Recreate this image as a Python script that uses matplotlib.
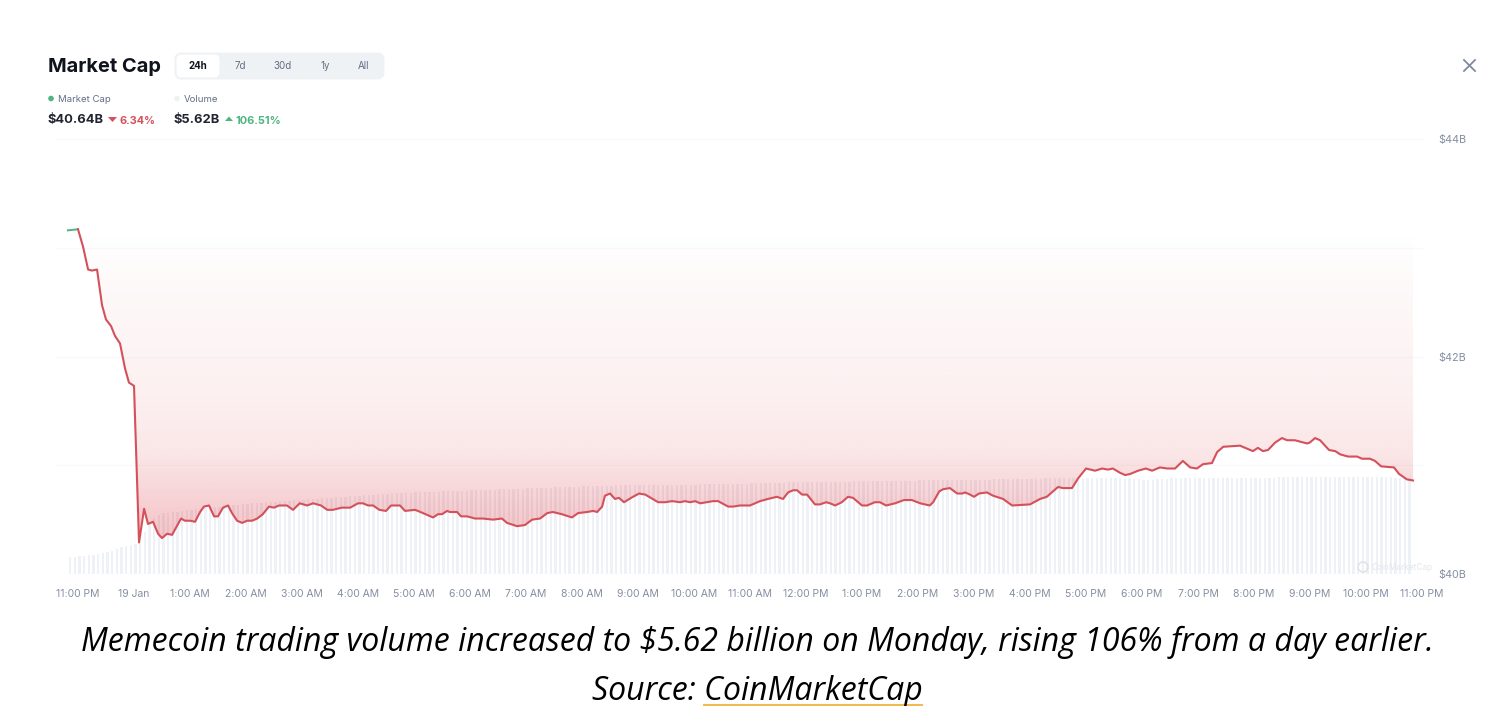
import numpy as np
import matplotlib
matplotlib.use("Agg")
import matplotlib.pyplot as plt
from matplotlib.patches import FancyBboxPatch, Circle, Polygon

# Market cap in $B, x is hours after 11:00 PM.
hours_up = [-0.18, 0.00]
cap_up = [43.16, 43.17]

hours = [0.00, 0.09, 0.18, 0.25, 0.34, 0.43, 0.50, 0.59, 0.66, 0.75, 0.84, 0.91, 1.00, 1.09, 1.18, 1.25,
         1.34, 1.43, 1.50, 1.59, 1.68, 1.84, 1.91, 2.00, 2.09, 2.18, 2.25, 2.34, 2.43, 2.50, 2.59, 2.68,
         2.75, 2.84, 2.93, 3.02, 3.11, 3.20, 3.30, 3.41, 3.50, 3.59, 3.73, 3.84, 3.96, 4.09, 4.20, 4.34,
         4.45, 4.55, 4.71, 4.86, 5.00, 5.09, 5.18, 5.27, 5.38, 5.50, 5.59, 5.75, 5.84, 6.02, 6.16, 6.34,
         6.43, 6.50, 6.59, 6.64, 6.77, 6.84, 6.95, 7.09, 7.23, 7.41, 7.57, 7.66, 7.84, 7.98, 8.11, 8.25,
         8.38, 8.48, 8.64, 8.82, 8.93, 9.09, 9.20, 9.27, 9.36, 9.41, 9.50, 9.59, 9.66, 9.75, 9.91, 10.02,
         10.13, 10.36, 10.48, 10.61, 10.75, 10.84, 10.93, 11.02, 11.11, 11.34, 11.43, 11.61, 11.70, 11.82,
         12.00, 12.18, 12.32, 12.48, 12.59, 12.68, 12.77, 12.84, 12.93, 13.02, 13.16, 13.25, 13.36, 13.43,
         13.52, 13.64, 13.75, 13.84, 14.00, 14.09, 14.23, 14.32, 14.43, 14.59, 14.75, 14.89, 15.04, 15.21,
         15.27, 15.38, 15.45, 15.57, 15.70, 15.79, 15.84, 15.93, 16.00, 16.09, 16.23, 16.34, 16.52, 16.68,
         17.00, 17.18, 17.30, 17.50, 17.59, 17.75, 17.86, 18.00, 18.16, 18.29, 18.39, 18.48, 18.61, 18.70,
         18.79, 18.93, 19.07, 19.18, 19.32, 19.45, 19.59, 19.73, 19.86, 19.98, 20.09, 20.25, 20.34, 20.45,
         20.75, 20.98, 21.07, 21.16, 21.25, 21.38, 21.50, 21.59, 21.73, 21.95, 22.00, 22.09, 22.18, 22.34,
         22.45, 22.54, 22.68, 22.84, 22.93, 23.07, 23.16, 23.27, 23.50, 23.59, 23.73, 23.84]
cap = [43.17, 43.01, 42.80, 42.79, 42.80, 42.47, 42.34, 42.28, 42.19, 42.12, 41.89, 41.76, 41.73, 40.29, 40.60, 40.46,
       40.48, 40.37, 40.33, 40.37, 40.36, 40.51, 40.49, 40.49, 40.48, 40.57, 40.62, 40.63, 40.53, 40.53, 40.61, 40.63,
       40.56, 40.49, 40.47, 40.49, 40.49, 40.51, 40.55, 40.62, 40.61, 40.63, 40.63, 40.59, 40.65, 40.63, 40.65, 40.63,
       40.59, 40.59, 40.61, 40.61, 40.65, 40.65, 40.63, 40.63, 40.59, 40.58, 40.63, 40.63, 40.58, 40.59, 40.56, 40.52,
       40.55, 40.55, 40.58, 40.57, 40.57, 40.53, 40.53, 40.51, 40.51, 40.50, 40.51, 40.47, 40.44, 40.45, 40.50, 40.51,
       40.56, 40.57, 40.55, 40.52, 40.56, 40.57, 40.58, 40.57, 40.62, 40.72, 40.74, 40.69, 40.70, 40.66, 40.71, 40.74,
       40.73, 40.66, 40.66, 40.67, 40.66, 40.67, 40.66, 40.67, 40.65, 40.67, 40.67, 40.62, 40.62, 40.63, 40.63, 40.67,
       40.69, 40.71, 40.69, 40.75, 40.77, 40.77, 40.73, 40.73, 40.64, 40.64, 40.66, 40.65, 40.63, 40.66, 40.71, 40.70,
       40.63, 40.63, 40.66, 40.66, 40.63, 40.65, 40.68, 40.68, 40.65, 40.63, 40.66, 40.76, 40.78, 40.79, 40.74, 40.74,
       40.75, 40.73, 40.71, 40.74, 40.75, 40.72, 40.69, 40.63, 40.64, 40.69, 40.71, 40.80, 40.79, 40.79, 40.88, 40.97,
       40.95, 40.97, 40.96, 40.97, 40.93, 40.91, 40.92, 40.95, 40.97, 40.95, 40.98, 40.97, 40.97, 41.04, 40.98, 40.97,
       41.01, 41.02, 41.12, 41.17, 41.18, 41.13, 41.16, 41.13, 41.14, 41.21, 41.25, 41.23, 41.23, 41.20, 41.21, 41.25,
       41.23, 41.14, 41.13, 41.10, 41.08, 41.08, 41.06, 41.06, 41.04, 40.99, 40.98, 40.92, 40.87, 40.86]

# Volume in $B, one bar per 5 minutes, starting just before 11:00 PM.
volume = [0.99, 0.99, 1.05, 1.05, 1.11, 1.11, 1.17, 1.23, 1.29, 1.35, 1.46, 1.58, 1.64, 1.70, 1.76, 1.87,
          2.46, 2.93, 3.28, 3.45, 3.57, 3.57, 3.63, 3.63, 3.69, 3.74, 3.74, 3.80, 3.80, 3.86, 3.86, 3.92,
          3.92, 3.98, 3.98, 4.04, 4.04, 4.10, 4.10, 4.15, 4.15, 4.15, 4.21, 4.21, 4.21, 4.27, 4.27, 4.27,
          4.33, 4.33, 4.33, 4.39, 4.39, 4.39, 4.45, 4.45, 4.45, 4.50, 4.50, 4.50, 4.56, 4.56, 4.56, 4.62,
          4.62, 4.62, 4.68, 4.68, 4.68, 4.74, 4.74, 4.74, 4.74, 4.74, 4.80, 4.80, 4.80, 4.80, 4.80, 4.80,
          4.86, 4.86, 4.86, 4.86, 4.86, 4.86, 4.91, 4.91, 4.91, 4.91, 4.91, 4.91, 4.97, 4.97, 4.97, 4.97,
          4.97, 4.97, 5.03, 5.03, 5.03, 5.03, 5.03, 5.03, 5.09, 5.09, 5.09, 5.09, 5.09, 5.09, 5.15, 5.15,
          5.15, 5.15, 5.15, 5.15, 5.15, 5.21, 5.21, 5.21, 5.21, 5.21, 5.21, 5.21, 5.21, 5.21, 5.21, 5.21,
          5.21, 5.21, 5.21, 5.21, 5.21, 5.21, 5.21, 5.27, 5.27, 5.27, 5.27, 5.27, 5.27, 5.27, 5.27, 5.27,
          5.27, 5.27, 5.32, 5.32, 5.32, 5.32, 5.32, 5.32, 5.32, 5.32, 5.38, 5.38, 5.38, 5.38, 5.38, 5.38,
          5.38, 5.38, 5.38, 5.38, 5.38, 5.38, 5.38, 5.38, 5.44, 5.44, 5.44, 5.44, 5.44, 5.44, 5.44, 5.44,
          5.44, 5.44, 5.44, 5.44, 5.44, 5.44, 5.50, 5.50, 5.50, 5.50, 5.50, 5.50, 5.50, 5.50, 5.50, 5.50,
          5.50, 5.50, 5.50, 5.50, 5.50, 5.50, 5.56, 5.56, 5.56, 5.56, 5.56, 5.56, 5.56, 5.56, 5.56, 5.56,
          5.56, 5.62, 5.62, 5.62, 5.62, 5.62, 5.62, 5.62, 5.62, 5.62, 5.62, 5.62, 5.62, 5.62, 5.62, 5.62,
          5.62, 5.62, 5.62, 5.62, 5.56, 5.56, 5.50, 5.50, 5.50, 5.56, 5.56, 5.56, 5.62, 5.62, 5.62, 5.62,
          5.62, 5.62, 5.62, 5.62, 5.62, 5.62, 5.62, 5.62, 5.62, 5.62, 5.62, 5.62, 5.62, 5.62, 5.62, 5.62,
          5.62, 5.62, 5.62, 5.67, 5.67, 5.67, 5.67, 5.67, 5.67, 5.67, 5.67, 5.67, 5.67, 5.67, 5.67, 5.67,
          5.67, 5.67, 5.67, 5.67, 5.67, 5.67, 5.67, 5.67, 5.67, 5.67, 5.67, 5.67, 5.62, 5.62, 5.62, 5.62]

time_ticks = list(range(25))
time_labels = ["11:00 PM", "19 Jan", "1:00 AM", "2:00 AM", "3:00 AM", "4:00 AM", "5:00 AM", "6:00 AM",
               "7:00 AM", "8:00 AM", "9:00 AM", "10:00 AM", "11:00 AM", "12:00 PM", "1:00 PM", "2:00 PM",
               "3:00 PM", "4:00 PM", "5:00 PM", "6:00 PM", "7:00 PM", "8:00 PM", "9:00 PM", "10:00 PM", "11:00 PM"]
cap_ticks = [40, 41, 42, 43, 44]
cap_labels = ["$40B", "", "$42B", "", "$44B"]

# Fill strength by market cap level.
fill_levels = [40.2, 40.6, 41.1, 41.6, 42.5, 43.17]
fill_alpha = [0.32, 0.25, 0.13, 0.08, 0.04, 0.0]

RED = "#d4505a"
GREEN = "#4fb57f"
GREY = "#858fa2"
DARK = "#10131c"
W, H = 1494, 706

plt.rcParams["font.family"] = ["Inter", "DejaVu Sans"]
fig = plt.figure(figsize=(W / 100, H / 100), dpi=100)

# Chart axes: 11:00 PM sits at px 78, one hour is 56 px, $44B at y 139, $40B at y 574.
left, right = 56, 1424
rect = [left / W, 1 - 574 / H, (right - left) / W, (574 - 139) / H]
xlim = ((left - 78) / 56, (right - 78) / 56)

ax_vol = fig.add_axes(rect)
ax_vol.set_xlim(xlim)
ax_vol.set_ylim(0, 25.5)
ax_vol.axis("off")
bar_x = -0.14 + np.arange(len(volume)) / 12
ax_vol.bar(bar_x, volume, width=0.04, color="#eef1f6", linewidth=0)

ax = fig.add_axes(rect)
ax.patch.set_visible(False)
ax.set_xlim(xlim)
ax.set_ylim(40, 44)
for s in ax.spines.values():
    s.set_visible(False)
ax.set_xticks(time_ticks)
ax.set_xticklabels(time_labels, fontsize=7.5, color=GREY)
ax.set_yticks(cap_ticks)
ax.set_yticklabels(cap_labels, fontsize=7.8, color=GREY)
ax.yaxis.tick_right()
ax.tick_params(axis="both", length=0)
ax.tick_params(axis="x", pad=10.5)
ax.tick_params(axis="y", pad=10)
ax.grid(axis="y", color="#f8f9fa", linewidth=0.8, zorder=0)

# Gradient between the opening level and the line.
hours = np.array(hours)
cap = np.array(cap)
area = ax.fill_between(hours, cap, cap[0], color="none", linewidth=0)
levels = np.linspace(40, cap[0], 300)
grad = np.zeros((300, 1, 4))
grad[:, 0, :3] = matplotlib.colors.to_rgb("#dc3c46")
grad[:, 0, 3] = np.interp(levels, fill_levels, fill_alpha)
im = ax.imshow(grad, origin="lower", aspect="auto", interpolation="bilinear",
               extent=(hours[0], hours[-1], 40, cap[0]), zorder=2)
im.set_clip_path(area.get_paths()[0], transform=ax.transData)
ax.set_xlim(xlim)
ax.set_ylim(40, 44)

ax.plot(hours_up, cap_up, color=GREEN, linewidth=1.4, zorder=3)
ax.plot(hours, cap, color=RED, linewidth=1.5, zorder=3, solid_joinstyle="round")

# Header, legend and caption, placed in image pixels.
ov = fig.add_axes([0, 0, 1, 1])
ov.set_xlim(0, W)
ov.set_ylim(H, 0)
ov.axis("off")

ov.text(48, 66.5, "Market Cap", fontsize=14.4, fontweight="bold", color=DARK, va="center")
ov.add_patch(FancyBboxPatch((178, 56), 203, 20, boxstyle="round,pad=0,rounding_size=3", mutation_aspect=1,
                            facecolor="#eff2f5", edgecolor="#eff2f5", linewidth=5))
ov.add_patch(FancyBboxPatch((178, 56), 40, 20, boxstyle="round,pad=0,rounding_size=3",
                            facecolor="white", edgecolor="white", linewidth=2))
ranges = ["24h", "7d", "30d", "1y", "All"]
range_x = [198, 240, 283, 325, 363]
for label, x in zip(ranges, range_x):
    ov.text(x, 66, label, fontsize=7, ha="center", va="center",
            color=DARK if label == "24h" else "#616e85", fontweight="bold" if label == "24h" else "normal")

ov.add_patch(Circle((51, 98.5), 2.8, color="#4fb57f", linewidth=0))
ov.text(58, 99, "Market Cap", fontsize=6.9, color="#616e85", va="center")
ov.add_patch(Circle((177, 98.5), 2.8, color="#eff2f5", linewidth=0))
ov.text(184, 99, "Volume", fontsize=6.9, color="#616e85", va="center")

ov.text(48, 120, "$40.64B", fontsize=9.3, fontweight="bold", color="#222531", va="center")
ov.add_patch(Polygon([(108, 117), (117, 117), (112.5, 122)], color=RED, linewidth=0))
ov.text(120, 120.5, "6.34%", fontsize=7.8, fontweight="bold", color=RED, va="center")
ov.text(174, 120, "$5.62B", fontsize=9.3, fontweight="bold", color="#222531", va="center")
ov.add_patch(Polygon([(225, 121), (233, 121), (229, 116.5)], color=GREEN, linewidth=0))
ov.text(236, 120.5, "106.51%", fontsize=7.9, fontweight="bold", color=GREEN, va="center")

ov.plot([1464, 1475], [60, 71], color="#7f8a9e", linewidth=1.3)
ov.plot([1475, 1464], [60, 71], color="#7f8a9e", linewidth=1.3)

ov.add_patch(Circle((1363, 567), 5, facecolor="none", edgecolor="#dfe3ea", linewidth=1.2))
ov.text(1372, 567, "CoinMarketCap", fontsize=6, color="#e3e6ec", va="center")

ov.text(757, 642.5, "Memecoin trading volume increased to $5.62 billion on Monday, rising 106% from a day earlier.",
        fontsize=23, family=["Open Sans", "DejaVu Sans"], style="italic", color="black", ha="center", va="center")
ov.text(757, 691, "Source: CoinMarketCap",
        fontsize=23, family=["Open Sans", "DejaVu Sans"], style="italic", color="black", ha="center", va="center")
ov.plot([704, 922], [704.5, 704.5], color="#f2bb4e", linewidth=1.5)

fig.savefig("out.png", dpi=100)
